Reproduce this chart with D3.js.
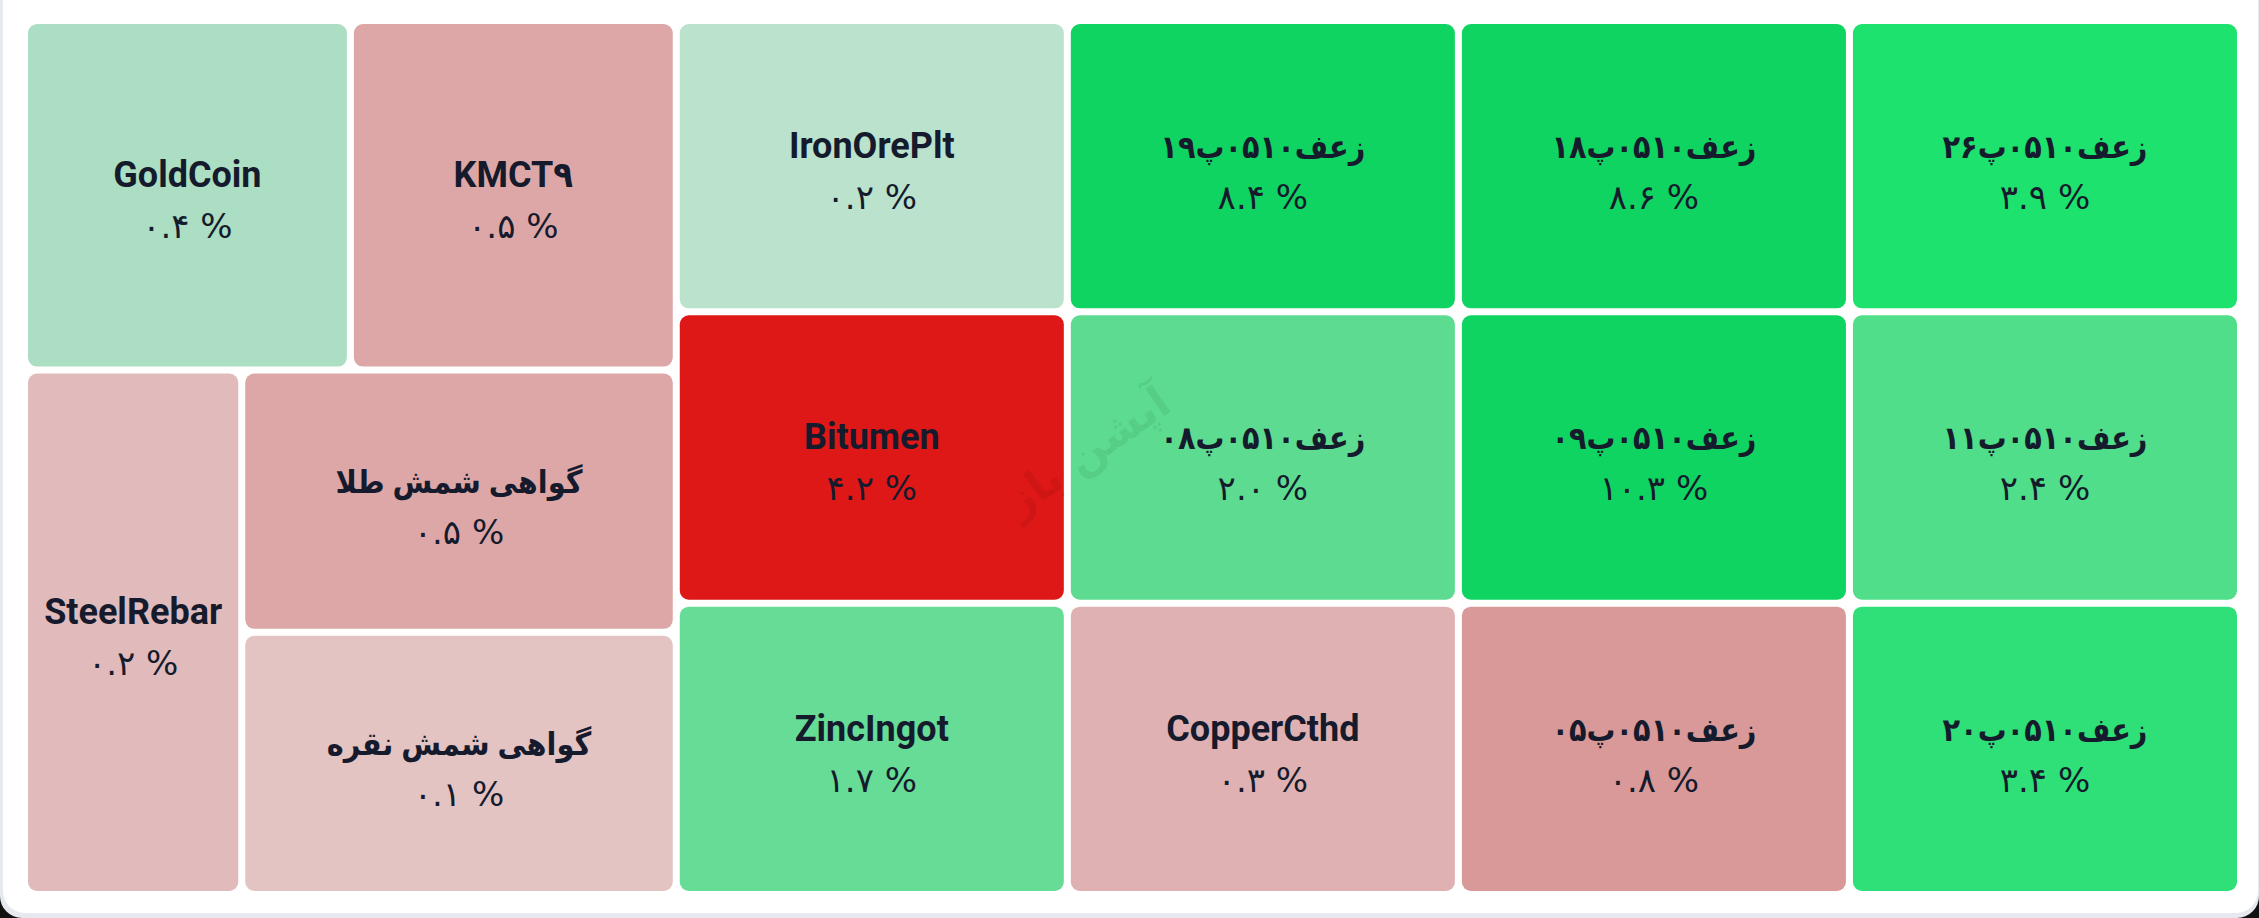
<!DOCTYPE html>
<html>
<head>
<meta charset="utf-8">
<script src="https://cdn.jsdelivr.net/npm/d3@7"></script>
<style>
  html, body { margin: 0; padding: 0; background: #e6e9ed; overflow: hidden; }
  svg { display: block; }
</style>
</head>
<body>
<div id="chart"></div>
<script>
// cells in reading order
const names = [
  "GoldCoin", "KMCT۹", "IronOrePlt", "زعف۰۵۱۰پ۱۹", "زعف۰۵۱۰پ۱۸", "زعف۰۵۱۰پ۲۶",
  "SteelRebar", "گواهی شمش طلا", "گواهی شمش نقره",
  "Bitumen", "زعف۰۵۱۰پ۰۸", "زعف۰۵۱۰پ۰۹", "زعف۰۵۱۰پ۱۱",
  "ZincIngot", "CopperCthd", "زعف۰۵۱۰پ۰۵", "زعف۰۵۱۰پ۲۰"
];
// percent change (sign)
const changes = [0.4, -0.5, 0.2, 8.4, 8.6, 3.9, -0.2, -0.5, -0.1, -4.2, 2.0, 10.3, 2.4, 1.7, -0.3, -0.8, 3.4];
// all cells have the same area
const weights = [1, 1, 1, 1, 1, 1, 1, 1, 1, 1, 1, 1, 1, 1, 1, 1, 1];
// branch of the tree each cell hangs from
const branches = [
  "left/top", "left/top", "right/r1", "right/r1", "right/r1", "right/r1",
  "left/bottom", "left/bottom/cert", "left/bottom/cert",
  "right/r2", "right/r2", "right/r2", "right/r2",
  "right/r3", "right/r3", "right/r3", "right/r3"
];
const watermark = "آپشن باز";

const width = 2259, height = 918;
const margin = {left: 28, top: 24, right: 22, bottom: 27};

// build the nested tree from the branch paths
const tree = {name: "root", children: []};
names.forEach((name, i) => {
  let node = tree;
  branches[i].split("/").forEach(key => {
    let next = node.children.find(c => c.name === key && c.children);
    if (!next) { next = {name: key, children: []}; node.children.push(next); }
    node = next;
  });
  node.children.push({name, change: changes[i], weight: weights[i]});
});

const root = d3.hierarchy(tree).sum(d => d.weight || 0);
d3.treemap()
  .tile(d3.treemapSliceDice)
  .size([width - margin.left - margin.right, height - margin.top - margin.bottom])
  .paddingInner(7)(root);

const posColor = d3.scaleLinear()
  .domain([0, 0.4, 1.5, 4, 6])
  .range(["#c9e6d5", "#abdec2", "#6edb9b", "#1ae26b", "#10d462"])
  .clamp(true);
const negColor = d3.scaleLinear()
  .domain([0, 0.3, 1, 4])
  .range(["#e6cccc", "#dfb1b2", "#d78f8f", "#de1717"])
  .clamp(true);
const color = v => v >= 0 ? posColor(v) : negColor(-v);

const faDigits = "۰۱۲۳۴۵۶۷۸۹";
const toFa = s => s.replace(/[0-9]/g, d => faDigits[+d]);
const fmt = d3.format(".1f");
const isFa = s => /^[\u0600-\u06FF]/.test(s);

const svg = d3.select("#chart")
  .append("svg")
  .attr("width", width)
  .attr("height", height);

// white card
svg.append("rect")
  .attr("x", 3).attr("y", -40)
  .attr("width", width - 4).attr("height", 953)
  .attr("rx", 22)
  .attr("fill", "#fff");

// phone screen corners
svg.append("path")
  .attr("d", `M${width},${height - 22} A22,22 0 0 1 ${width - 22},${height} L${width},${height} Z`)
  .attr("fill", "#111");
svg.append("path")
  .attr("d", `M0,${height - 22} A22,22 0 0 0 22,${height} L0,${height} Z`)
  .attr("fill", "#111");

const g = svg.append("g")
  .attr("transform", `translate(${margin.left},${margin.top})`);

const cell = g.selectAll("g.cell")
  .data(root.leaves())
  .join("g")
  .attr("class", "cell")
  .attr("transform", d => `translate(${d.x0},${d.y0})`);

cell.append("rect")
  .attr("width", d => d.x1 - d.x0)
  .attr("height", d => d.y1 - d.y0)
  .attr("rx", 9)
  .attr("fill", d => color(d.data.change));

cell.append("text")
  .attr("x", d => (d.x1 - d.x0) / 2)
  .attr("y", d => (d.y1 - d.y0) / 2 - 8)
  .attr("text-anchor", "middle")
  .attr("font-family", "Roboto, 'DejaVu Sans Condensed', 'DejaVu Sans', sans-serif")
  .attr("font-weight", 700)
  .attr("font-size", d => isFa(d.data.name) ? 32 : 36)
  .attr("fill", "#151b2c")
  .text(d => d.data.name);

cell.append("text")
  .attr("x", d => (d.x1 - d.x0) / 2)
  .attr("y", d => (d.y1 - d.y0) / 2 + 43)
  .attr("text-anchor", "middle")
  .attr("font-family", "'DejaVu Sans', sans-serif")
  .attr("font-size", 34)
  .attr("fill", "#151b2c")
  .text(d => toFa(fmt(Math.abs(d.data.change))) + " %");

// faint watermark
svg.append("text")
  .attr("transform", "translate(1096,464) rotate(-35)")
  .attr("text-anchor", "middle")
  .attr("font-family", "'DejaVu Sans', sans-serif")
  .attr("font-weight", 700)
  .attr("font-size", 44)
  .attr("fill", "#000")
  .attr("fill-opacity", 0.08)
  .text(watermark);
</script>
</body>
</html>
